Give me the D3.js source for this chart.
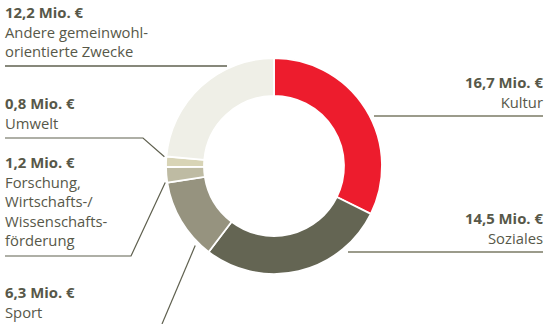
<!DOCTYPE html>
<html><head><meta charset="utf-8">
<script src="https://cdn.jsdelivr.net/npm/d3@7"></script>
<style>
html,body{margin:0;padding:0;background:#fff;}
svg{display:block;font-family:"Open Sans",sans-serif;}
</style></head>
<body><svg id="c" width="547" height="324"></svg>
<script>
// Data (clockwise from 12 o'clock)
const categories = ["Kultur","Soziales","Sport","Forschung, Wirtschafts-/ Wissenschaftsförderung","Umwelt","Andere gemeinwohlorientierte Zwecke"];
const values = [16.7, 14.5, 6.3, 1.2, 0.8, 12.2];
const valueLabels = ["16,7 Mio. €","14,5 Mio. €","6,3 Mio. €","1,2 Mio. €","0,8 Mio. €","12,2 Mio. €"];
const nameLines = [["Kultur"],["Soziales"],["Sport"],["Forschung,","Wirtschafts-/","Wissenschafts-","förderung"],["Umwelt"],["Andere gemeinwohl-","orientierte Zwecke"]];
const colors = ["#ED1C2D","#646553","#96937F","#BEBBA3","#D8D4B6","#EFEFE7"];

const svg = d3.select("#c");
const cx = 274, cy = 166, rOuter = 108, rInner = 70;
const textColor = "#575849";

const pie = d3.pie().sort(null).value(d => d);
const arcs = pie(values);
const arc = d3.arc().innerRadius(rInner).outerRadius(rOuter);

const g = svg.append("g").attr("transform", `translate(${cx},${cy})`);
g.selectAll("path").data(arcs).enter().append("path")
  .attr("d", arc)
  .attr("fill", (d,i) => colors[i])
  .attr("stroke", "#fff").attr("stroke-width", 1.8);

const lineH = 19.6;
const layout = [
  {side:"right", y:88, lineY:116, x0:374},
  {side:"right", y:224, lineY:252, x0:348},
  {side:"left", y:298},
  {side:"left", y:168, lineY:256},
  {side:"left", y:109, lineY:138},
  {side:"left", y:18, lineY:66}
];

function polar(angle, r){ return [cx + r*Math.sin(angle), cy - r*Math.cos(angle)]; }

arcs.forEach((a,i) => {
  const L = layout[i];
  const right = L.side === "right";
  const tx = right ? 543 : 5;
  const t = svg.append("text").attr("x", tx).attr("y", L.y)
    .attr("text-anchor", right ? "end" : "start")
    .attr("fill", textColor).style("font-size","14.8px");
  t.append("tspan").attr("x", tx).attr("dy", 0).attr("font-weight","bold").style("font-size","14.9px").text(valueLabels[i]);
  nameLines[i].forEach(s => t.append("tspan").attr("x", tx).attr("dy", lineH).text(s));
});

const lc = "#5f604f";
[0,1].forEach(i => {
  const L = layout[i];
  svg.append("line").attr("x1", L.x0).attr("x2", 543).attr("y1", L.lineY).attr("y2", L.lineY)
    .attr("stroke", "#9b9b8b").attr("stroke-width", 1.8);
});
svg.append("line").attr("x1",5).attr("x2",227).attr("y1",layout[5].lineY).attr("y2",layout[5].lineY)
  .attr("stroke", lc).attr("stroke-width",1.5);
{
  const p = polar(arcs[4].endAngle - 0.004, rOuter + 2);
  svg.append("polyline").attr("points", `5,${layout[4].lineY} 143,${layout[4].lineY} ${p[0]},${p[1]}`)
    .attr("fill","none").attr("stroke", lc).attr("stroke-width",1.2);
}
{
  const p = polar(arcs[3].startAngle + 0.004, rOuter + 2);
  svg.append("polyline").attr("points", `5,${layout[3].lineY} 131,${layout[3].lineY} ${p[0]},${p[1]}`)
    .attr("fill","none").attr("stroke", lc).attr("stroke-width",1.2);
}
{
  const a = arcs[2].startAngle + 0.13;
  const p = polar(a, rOuter + 4);
  svg.append("line").attr("x1", p[0]).attr("y1", p[1]).attr("x2", 162).attr("y2", 324)
    .attr("stroke", lc).attr("stroke-width",1.2);
}
</script></body></html>
